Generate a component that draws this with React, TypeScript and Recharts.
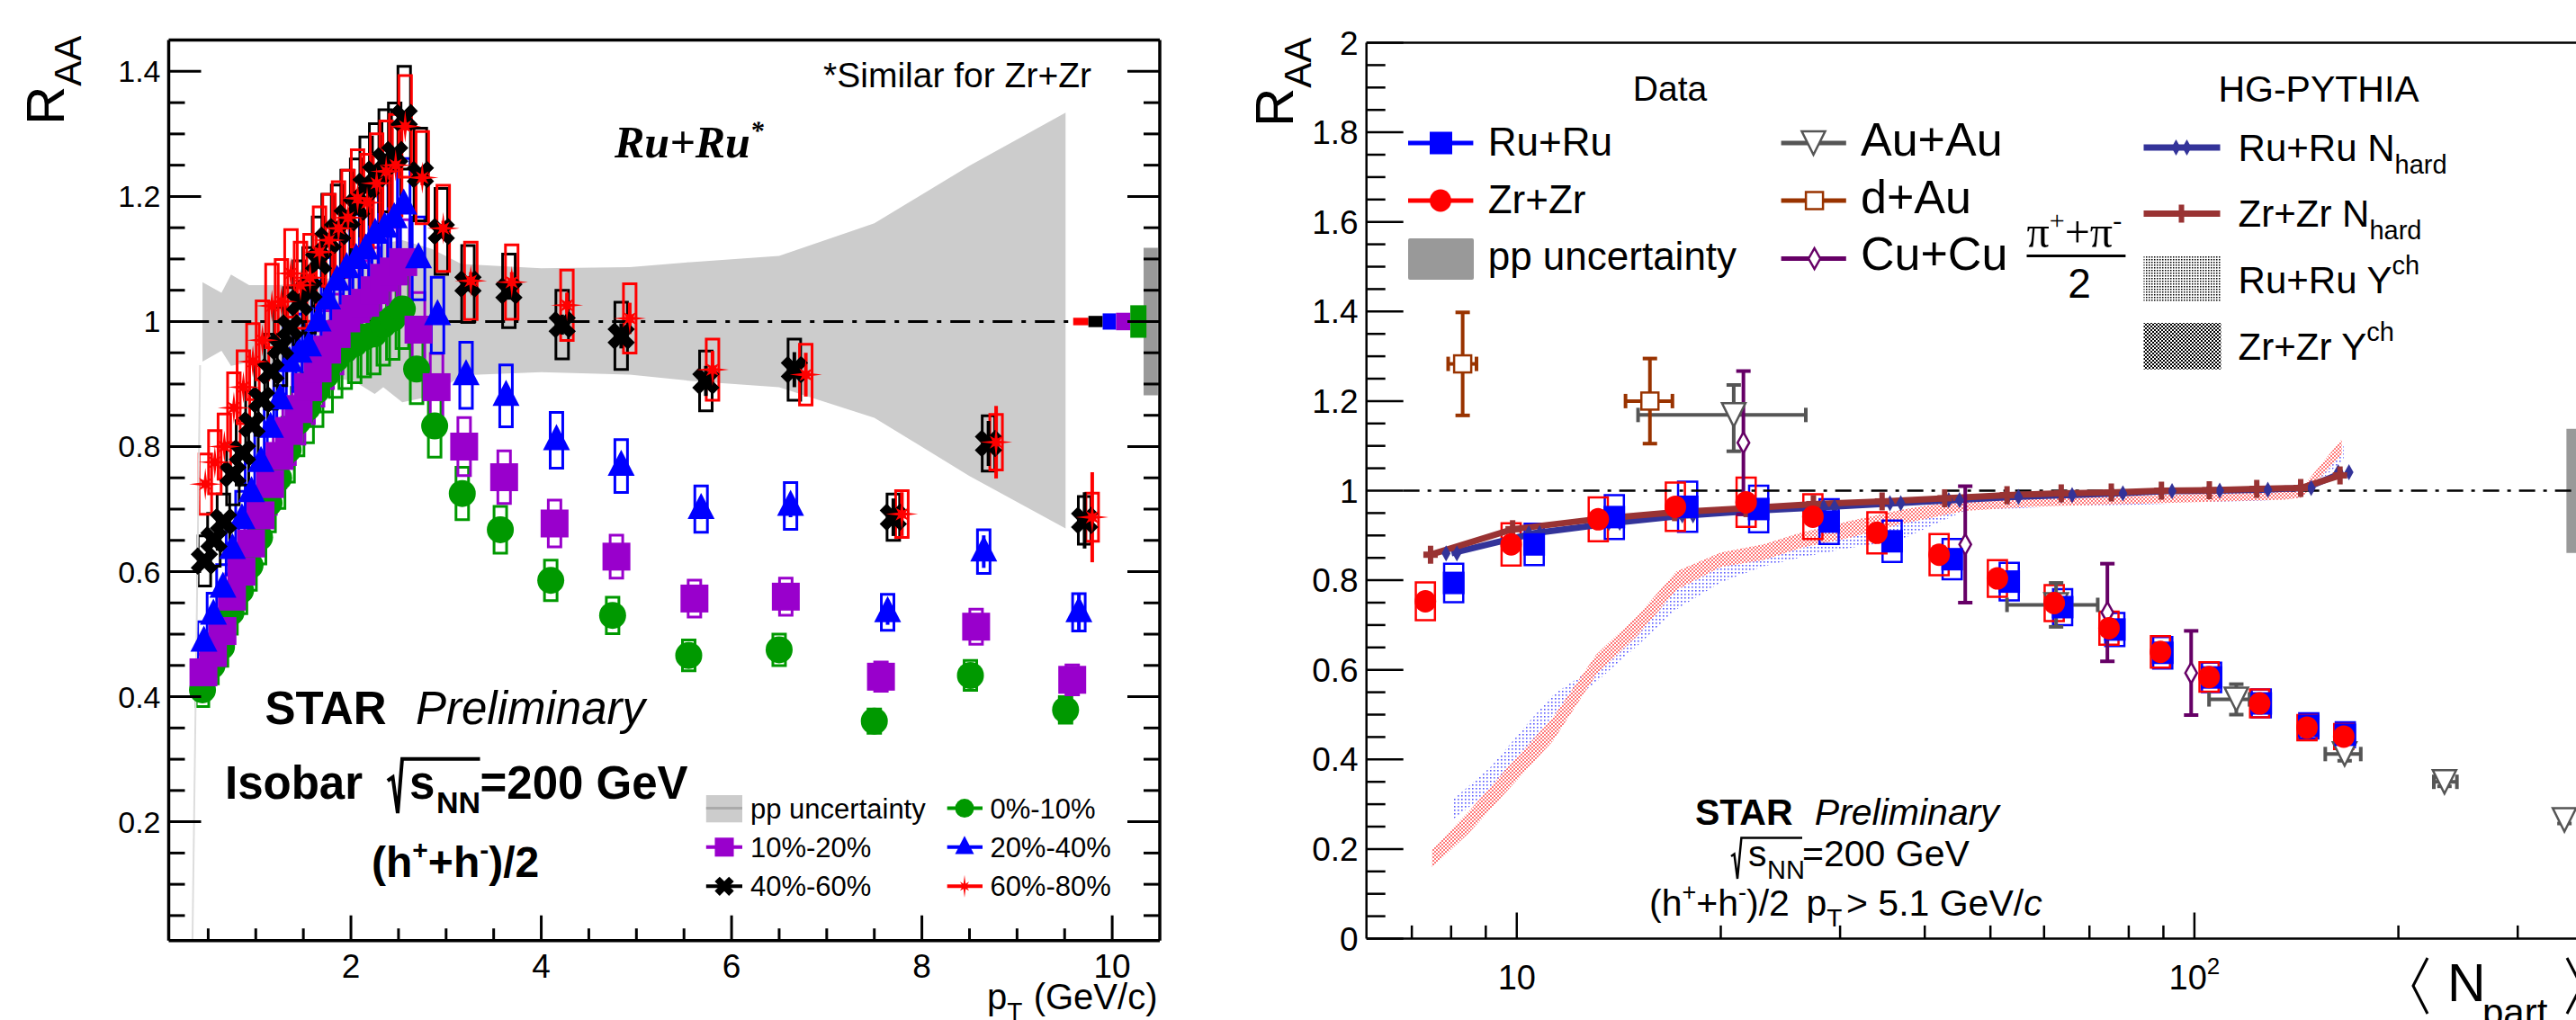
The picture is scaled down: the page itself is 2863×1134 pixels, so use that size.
import React from 'react';
import {
  ComposedChart, Scatter, Area, Line, XAxis, YAxis,
  ReferenceArea, ReferenceLine, ErrorBar,
} from 'recharts';

const SANS = '"Liberation Sans", Arial, Helvetica, sans-serif';
const SERIF = '"Liberation Serif", "Times New Roman", serif';

// ================= LEFT PANEL: R_AA vs pT (Ru+Ru) =================
const ptGreen = [0.44, 0.54, 0.64, 0.74, 0.84, 0.94, 1.04, 1.14, 1.24, 1.34, 1.44, 1.54, 1.64, 1.74, 1.84, 1.94, 2.04, 2.14, 2.24, 2.34, 2.44, 2.54, 2.69, 2.88, 3.17, 3.57, 4.1, 4.75, 5.55, 6.5, 7.5, 8.51, 9.51];
const raaGreen = [0.411, 0.45, 0.48, 0.535, 0.57, 0.61, 0.655, 0.71, 0.75, 0.795, 0.84, 0.862, 0.89, 0.915, 0.94, 0.955, 0.965, 0.975, 0.98, 0.995, 1.005, 1.02, 0.924, 0.833, 0.725, 0.667, 0.586, 0.53, 0.466, 0.475, 0.361, 0.434, 0.379];
const statGreen = [0.006, 0.006, 0.007, 0.008, 0.009, 0.01, 0.012, 0.014, 0.014, 0.018, 0.02];

const ptPurple = [0.45, 0.55, 0.65, 0.75, 0.85, 0.95, 1.05, 1.15, 1.25, 1.35, 1.45, 1.55, 1.65, 1.75, 1.85, 1.95, 2.05, 2.15, 2.25, 2.35, 2.45, 2.55, 2.71, 2.9, 3.19, 3.61, 4.14, 4.79, 5.61, 6.57, 7.57, 8.57, 9.58];
const raaPurple = [0.439, 0.47, 0.505, 0.56, 0.6, 0.645, 0.69, 0.74, 0.785, 0.825, 0.86, 0.895, 0.925, 0.955, 0.98, 1.005, 1.02, 1.03, 1.05, 1.07, 1.08, 1.095, 0.987, 0.895, 0.8, 0.751, 0.677, 0.624, 0.557, 0.56, 0.432, 0.512, 0.427];
const statPurple = [0.007, 0.007, 0.008, 0.009, 0.01, 0.011, 0.013, 0.015, 0.016, 0.02, 0.022];

const ptBlue = [0.455, 0.555, 0.655, 0.755, 0.855, 0.955, 1.055, 1.155, 1.255, 1.355, 1.455, 1.555, 1.655, 1.755, 1.855, 1.955, 2.055, 2.155, 2.255, 2.355, 2.455, 2.555, 2.71, 2.91, 3.21, 3.63, 4.16, 4.84, 5.68, 6.62, 7.64, 8.65, 9.65];
const raaBlue = [0.488, 0.531, 0.574, 0.636, 0.684, 0.727, 0.775, 0.83, 0.875, 0.935, 0.95, 0.96, 1.0, 1.035, 1.065, 1.085, 1.1, 1.115, 1.14, 1.15, 1.165, 1.187, 1.101, 1.01, 0.914, 0.881, 0.81, 0.769, 0.7, 0.705, 0.535, 0.632, 0.535];
const statBlue = [0.008, 0.008, 0.009, 0.01, 0.012, 0.014, 0.016, 0.018, 0.02, 0.026, 0.03];

const ptBlack = [0.46, 0.56, 0.66, 0.76, 0.86, 0.96, 1.06, 1.16, 1.26, 1.36, 1.46, 1.56, 1.66, 1.76, 1.86, 1.96, 2.06, 2.16, 2.26, 2.36, 2.46, 2.56, 2.73, 2.95, 3.23, 3.66, 4.22, 4.84, 5.73, 6.66, 7.7, 8.7, 9.71];
const raaBlack = [0.617, 0.651, 0.68, 0.756, 0.79, 0.835, 0.875, 0.92, 0.96, 0.99, 1.03, 1.05, 1.096, 1.13, 1.144, 1.166, 1.183, 1.216, 1.236, 1.257, 1.267, 1.326, 1.235, 1.144, 1.06, 1.049, 0.995, 0.977, 0.905, 0.923, 0.687, 0.805, 0.682];
const statBlack = [0.01, 0.01, 0.012, 0.014, 0.016, 0.02, 0.024, 0.028, 0.03, 0.036, 0.045];

const ptRed = [0.47, 0.57, 0.67, 0.77, 0.87, 0.97, 1.07, 1.17, 1.27, 1.37, 1.47, 1.57, 1.67, 1.77, 1.87, 1.97, 2.07, 2.17, 2.27, 2.37, 2.47, 2.57, 2.75, 2.97, 3.26, 3.69, 4.27, 4.93, 5.8, 6.78, 7.79, 8.78, 9.79];
const raaRed = [0.74, 0.775, 0.8, 0.862, 0.895, 0.936, 0.97, 1.025, 1.032, 1.077, 1.058, 1.07, 1.111, 1.13, 1.149, 1.166, 1.197, 1.19, 1.221, 1.24, 1.25, 1.312, 1.23, 1.149, 1.065, 1.063, 1.026, 1.005, 0.923, 0.915, 0.692, 0.807, 0.687];
const statRed = [0.012, 0.012, 0.014, 0.016, 0.02, 0.025, 0.03, 0.035, 0.035, 0.058, 0.072];

// relative systematic uncertainty per pT bin (open boxes)
const sysRel = [0.065, 0.065, 0.065, 0.065, 0.065, 0.065, 0.065, 0.065, 0.065, 0.065, 0.065, 0.065, 0.065, 0.065, 0.065, 0.065, 0.065, 0.065, 0.065, 0.065, 0.065, 0.062, 0.06, 0.06, 0.058, 0.056, 0.055, 0.055, 0.053, 0.053, 0.054, 0.055, 0.056];

// pp uncertainty band
const bandPt = [0.44, 0.64, 0.74, 0.93, 1.2, 1.5, 1.8, 2.03, 2.25, 2.34, 2.54, 2.85, 3.16, 4.0, 4.93, 5.57, 6.5, 7.5, 8.5, 9.51];
const bandLo = [0.936, 0.953, 0.929, 0.935, 0.925, 0.915, 0.91, 0.905, 0.884, 0.895, 0.871, 0.881, 0.914, 0.919, 0.915, 0.905, 0.895, 0.846, 0.753, 0.669];
const bandHi = [1.063, 1.046, 1.075, 1.058, 1.058, 1.06, 1.07, 1.09, 1.11, 1.125, 1.13, 1.116, 1.092, 1.085, 1.087, 1.095, 1.105, 1.157, 1.249, 1.334];

// normalization uncertainty boxes at the right edge (gray = pp)
const normColors = ['#999999', '#ff0000', '#000000', '#0000ff', '#9900cc', '#009900'];
const normX1 = [10.33, 9.59, 9.75, 9.9, 10.04, 10.19];
const normX2 = [10.48, 9.75, 9.9, 10.04, 10.19, 10.36];
const normHalf = [0.118, 0.006, 0.009, 0.013, 0.014, 0.026];

const leftXTicks = [0.5, 1, 1.5, 2, 2.5, 3, 3.5, 4, 4.5, 5, 5.5, 6, 6.5, 7, 7.5, 8, 8.5, 9, 9.5, 10];
const leftYTicks = [0.05, 0.1, 0.15, 0.2, 0.25, 0.3, 0.35, 0.4, 0.45, 0.5, 0.55, 0.6, 0.65, 0.7, 0.75, 0.8, 0.85, 0.9, 0.95, 1, 1.05, 1.1, 1.15, 1.2, 1.25, 1.3, 1.35, 1.4];

// ================= RIGHT PANEL: R_AA vs <Npart> =================
const nZr = [7.33, 9.81, 13.19, 17.14, 21.8, 27.35, 34.0, 42.0, 51.2, 62.1, 74.8, 89.1, 105.1, 124.8, 146.6, 166.1];
const raaZr = [0.753, 0.88, 0.936, 0.964, 0.974, 0.942, 0.906, 0.857, 0.804, 0.749, 0.693, 0.64, 0.584, 0.525, 0.471, 0.451];
const sysZr = [0.042, 0.047, 0.049, 0.054, 0.055, 0.05, 0.046, 0.046, 0.041, 0.04, 0.037, 0.035, 0.033, 0.031, 0.028, 0.028];
const nRu = [8.07, 10.61, 13.93, 17.87, 22.75, 28.9, 35.8, 43.9, 53.3, 63.9, 76.3, 89.8, 106.0, 125.5, 147.5, 167.0];
const raaRu = [0.794, 0.88, 0.941, 0.964, 0.959, 0.931, 0.887, 0.847, 0.797, 0.74, 0.69, 0.638, 0.583, 0.525, 0.475, 0.455];
const sysRu = [0.043, 0.046, 0.049, 0.056, 0.052, 0.05, 0.046, 0.045, 0.042, 0.04, 0.037, 0.035, 0.033, 0.031, 0.028, 0.028];

const nAu = [20.9, 62.5, 115.3, 166.6, 233.9, 351.6];
const raaAu = [1.169, 0.745, 0.534, 0.412, 0.35, 0.265];
const auXLo = [5.8, 9.6, 10.2, 10.6, 8.3, 0];
const auXHi = [5.8, 9.5, 5.3, 9.4, 10.1, 0];
const auYLo = [0.081, 0.049, 0.034, 0.015, 0.01, 0.008];
const auYHi = [0.067, 0.049, 0.034, 0.015, 0.01, 0.008];

const nDAu = [8.32, 15.72];
const raaDAu = [1.283, 1.2];
const dauXErr = [0.4, 1.25];
const dauYErr = [0.115, 0.095];

const nCu = [21.6, 45.9, 74.4, 98.9];
const raaCu = [1.107, 0.88, 0.728, 0.593];
const cuYErr = [0.16, 0.13, 0.109, 0.094];

const ychZrN = [7.5, 8.5, 9.8, 11.3, 13.1, 15.1, 17.2, 20, 23.1, 26.4, 31, 36.8, 45.8, 56.9, 70.8, 87.8, 109, 136, 144, 165];
const ychZrLo = [0.159, 0.236, 0.339, 0.441, 0.589, 0.678, 0.778, 0.83, 0.845, 0.873, 0.895, 0.925, 0.955, 0.964, 0.968, 0.972, 0.976, 0.98, 0.985, 1.08];
const ychZrHi = [0.199, 0.284, 0.39, 0.493, 0.634, 0.722, 0.82, 0.862, 0.88, 0.907, 0.932, 0.957, 0.981, 0.982, 0.988, 0.99, 0.995, 1.0, 1.006, 1.115];
const ychRuN = [8.05, 9.15, 10.55, 11.33, 13.06, 15.1, 17.2, 20, 23.1, 26.4, 31, 36.8, 45.8, 56.9, 70.8, 87.8, 109, 136, 144, 166];
const ychRuLo = [0.266, 0.331, 0.441, 0.5, 0.571, 0.655, 0.735, 0.795, 0.831, 0.852, 0.872, 0.89, 0.955, 0.962, 0.966, 0.97, 0.975, 0.98, 0.985, 1.07];
const ychRuHi = [0.31, 0.383, 0.493, 0.545, 0.608, 0.71, 0.777, 0.831, 0.866, 0.872, 0.905, 0.937, 0.978, 0.978, 0.985, 0.99, 0.995, 1.0, 1.005, 1.1];

const nhZrN = [7.46, 9.86, 13.2, 17.1, 21.8, 27.4, 34.6, 42.8, 52.9, 63.6, 75.4, 89.4, 105.2, 123.6, 143.5, 164];
const nhZrV = [0.857, 0.914, 0.937, 0.952, 0.961, 0.97, 0.976, 0.983, 0.99, 0.994, 0.996, 1.0, 1.001, 1.004, 1.006, 1.034];
const nhRuN = [8.01, 10.61, 13.93, 17.87, 22.75, 28.9, 36.2, 44.2, 54.0, 64.8, 77.0, 91.0, 107.0, 126.0, 146.0, 166.0];
const nhRuV = [0.86, 0.905, 0.928, 0.945, 0.956, 0.964, 0.972, 0.979, 0.986, 0.99, 0.994, 0.999, 1.0, 1.002, 1.006, 1.041];

const rightXTicks = [7, 8, 9, 10, 20, 30, 40, 50, 60, 70, 80, 90, 100, 200, 300, 400];
const rightYTicks = [0, 0.05, 0.1, 0.15, 0.2, 0.25, 0.3, 0.35, 0.4, 0.45, 0.5, 0.55, 0.6, 0.65, 0.7, 0.75, 0.8, 0.85, 0.9, 0.95, 1, 1.05, 1.1, 1.15, 1.2, 1.25, 1.3, 1.35, 1.4, 1.45, 1.5, 1.55, 1.6, 1.65, 1.7, 1.75, 1.8, 1.85, 1.9, 1.95, 2];

// ================= helpers =================
const isMajor = (v: number, step: number) => Math.abs(v / step - Math.round(v / step)) < 1e-6;
const fmt = (v: number) => String(Math.round(v * 10) / 10);
const ok = (p: any) => p && p.cx != null && p.cy != null && !isNaN(p.cx) && !isNaN(p.cy);

function crossPts(cx: number, cy: number, L: number, a: number) {
  const base = [[-a, -L], [a, -L], [a, -a], [L, -a], [L, a], [a, a], [a, L], [-a, L], [-a, a], [-L, a], [-L, -a], [-a, -a]];
  const c = Math.SQRT1_2;
  return base.map(([x, y]) => `${cx + (x - y) * c},${cy + (x + y) * c}`).join(' ');
}
function starPts(cx: number, cy: number, rMain: number, rDiag: number, rIn: number) {
  const pts: string[] = [];
  for (let k = 0; k < 16; k++) {
    const ang = -Math.PI / 2 + (k * Math.PI) / 8;
    const r = k % 2 === 1 ? rIn : k % 4 === 0 ? rMain : rDiag;
    pts.push(`${cx + r * Math.cos(ang)},${cy + r * Math.sin(ang)}`);
  }
  return pts.join(' ');
}

const mGreen = (cx: number, cy: number, s: number) => <circle cx={cx} cy={cy} r={15 * s} fill="#009900" />;
const mPurple = (cx: number, cy: number, s: number) => <rect x={cx - 15.5 * s} y={cy - 15.5 * s} width={31 * s} height={31 * s} fill="#9900cc" />;
const mBlue = (cx: number, cy: number, s: number) => (
  <polygon points={`${cx},${cy - 18 * s} ${cx - 15 * s},${cy + 11 * s} ${cx + 15 * s},${cy + 11 * s}`} fill="#0000ff" />
);
const mBlack = (cx: number, cy: number, s: number) => <polygon points={crossPts(cx, cy, 16 * s, 5.5 * s)} fill="#000000" />;
const mRed = (cx: number, cy: number, s: number) => <polygon points={starPts(cx, cy, 18 * s, 10 * s, 4.5 * s)} fill="#ff0000" />;

const leftSeries = [
  { key: 'g', xs: ptGreen, ys: raaGreen, st: statGreen, color: '#009900', mark: mGreen },
  { key: 'p', xs: ptPurple, ys: raaPurple, st: statPurple, color: '#9900cc', mark: mPurple },
  { key: 'b', xs: ptBlue, ys: raaBlue, st: statBlue, color: '#0000ff', mark: mBlue },
  { key: 'k', xs: ptBlack, ys: raaBlack, st: statBlack, color: '#000000', mark: mBlack },
  { key: 'r', xs: ptRed, ys: raaRed, st: statRed, color: '#ff0000', mark: mRed },
].map((s) => ({
  ...s,
  data: s.xs.map((x, i) => ({ x, y: s.ys[i], err: i >= 22 ? s.st[i - 22] : 0, sys: s.ys[i] * sysRel[i] })),
}));

const bandData = bandPt.map((x, i) => ({ x, range: [bandLo[i], bandHi[i]] }));
const LEFT_BOX_HALF = 0.066; // box half width in pT units (style)

// ---- tick renderers ----
const LeftXTick = (p: any) => {
  const v = p.payload.value;
  const major = isMajor(v, 2);
  return (
    <g>
      <line x1={p.x} x2={p.x} y1={p.y} y2={p.y - (major ? 28 : 13.5)} stroke="#000" strokeWidth={3} />
      {major ? <text x={p.x} y={p.y + 41.3} textAnchor="middle" fontFamily={SANS} fontSize={37} fill="#000">{fmt(v)}</text> : null}
    </g>
  );
};
const LeftYTick = (p: any) => {
  const v = p.payload.value;
  const major = isMajor(v, 0.2);
  return (
    <g>
      <line x1={p.x} x2={p.x + (major ? 36 : 18)} y1={p.y} y2={p.y} stroke="#000" strokeWidth={3} />
      {major ? <text x={p.x - 9} y={p.y + 12} textAnchor="end" fontFamily={SANS} fontSize={34} fill="#000">{fmt(v)}</text> : null}
    </g>
  );
};
const LeftYTickR = (p: any) => {
  const v = p.payload.value;
  const major = isMajor(v, 0.2);
  return <line x1={p.x} x2={p.x - (major ? 36 : 18)} y1={p.y} y2={p.y} stroke="#000" strokeWidth={3} />;
};
const RightXTick = (p: any) => {
  const v = p.payload.value;
  const major = v === 10 || v === 100;
  return (
    <g>
      <line x1={p.x} x2={p.x} y1={p.y} y2={p.y - (major ? 29 : 14.6)} stroke="#000" strokeWidth={2.5} />
      {v === 10 ? <text x={p.x} y={p.y + 56.5} textAnchor="middle" fontFamily={SANS} fontSize={38} fill="#000">10</text> : null}
      {v === 100 ? (
        <text x={p.x} y={p.y + 56.5} textAnchor="middle" fontFamily={SANS} fontSize={38} fill="#000">
          10<tspan dy={-17} fontSize={26}>2</tspan>
        </text>
      ) : null}
    </g>
  );
};
const RightYTick = (p: any) => {
  const v = p.payload.value;
  const major = isMajor(v, 0.2);
  return (
    <g>
      <line x1={p.x} x2={p.x + (major ? 41 : 21)} y1={p.y} y2={p.y} stroke="#000" strokeWidth={2.5} />
      {major ? <text x={p.x - 9} y={p.y + 13} textAnchor="end" fontFamily={SANS} fontSize={37} fill="#000">{fmt(v)}</text> : null}
    </g>
  );
};

// ---- right panel data objects ----
const zrData = nZr.map((x, i) => ({ x, y: raaZr[i], sys: sysZr[i] }));
const ruData = nRu.map((x, i) => ({ x, y: raaRu[i], sys: sysRu[i] }));
const auData = nAu.map((x, i) => ({ x, y: raaAu[i], xe: [auXLo[i], auXHi[i]], ye: [auYLo[i], auYHi[i]] }));
const dauData = nDAu.map((x, i) => ({ x, y: raaDAu[i], xe: dauXErr[i], ye: dauYErr[i] }));
const cuData = nCu.map((x, i) => ({ x, y: raaCu[i], ye: cuYErr[i] }));
const ychZr = ychZrN.map((x, i) => ({ x, range: [ychZrLo[i], ychZrHi[i]] }));
const ychRu = ychRuN.map((x, i) => ({ x, range: [ychRuLo[i], ychRuHi[i]] }));
const nhZr = nhZrN.map((x, i) => ({ x, y: nhZrV[i] }));
const nhRu = nhRuN.map((x, i) => ({ x, y: nhRuV[i] }));
const RIGHT_BOX_FACTOR = 1.033; // box half width as log factor (style)

const plusMark = (cx: number, cy: number, s: number) => (
  <g>
    <rect x={cx - 3 * s} y={cy - 10 * s} width={6 * s} height={20 * s} fill="#993333" />
    <rect x={cx - 8 * s} y={cy - 3.5 * s} width={16 * s} height={7 * s} fill="#993333" />
  </g>
);
const ddMark = (cx: number, cy: number, s: number) => (
  <g fill="#333399">
    <polygon points={`${cx - 6 * s},${cy - 9 * s} ${cx - 1 * s},${cy} ${cx - 6 * s},${cy + 9 * s} ${cx - 11 * s},${cy}`} />
    <polygon points={`${cx + 6 * s},${cy - 9 * s} ${cx + 11 * s},${cy} ${cx + 6 * s},${cy + 9 * s} ${cx + 1 * s},${cy}`} />
  </g>
);
const auMark = (cx: number, cy: number, s: number) => (
  <polygon points={`${cx - 13 * s},${cy - 13 * s} ${cx + 13 * s},${cy - 13 * s} ${cx},${cy + 13 * s}`} fill="#fff" stroke="#555555" strokeWidth={2.5} />
);
const dauMark = (cx: number, cy: number, s: number) => (
  <rect x={cx - 9.5 * s} y={cy - 9.5 * s} width={19 * s} height={19 * s} fill="#fff" stroke="#993300" strokeWidth={2.5} />
);
const cuMark = (cx: number, cy: number, s: number) => (
  <polygon points={`${cx},${cy - 11.5 * s} ${cx + 6.5 * s},${cy} ${cx},${cy + 11.5 * s} ${cx - 6.5 * s},${cy}`} fill="#fff" stroke="#660066" strokeWidth={2.5} />
);

// ================= charts =================
const LeftChart = () => (
  <ComposedChart width={1300} height={1134} margin={{ top: 44.6, left: 87.5, right: 10, bottom: 28.3 }}>
    <XAxis type="number" dataKey="x" domain={[0.085, 10.5]} allowDataOverflow ticks={leftXTicks} interval={0}
      tick={(p: any) => <LeftXTick {...p} />} tickLine={false} tickSize={0} tickMargin={0}
      axisLine={{ stroke: '#000', strokeWidth: 3.5 }} height={60} />
    <YAxis type="number" domain={[0.01, 1.45]} allowDataOverflow ticks={leftYTicks} interval={0}
      tick={(p: any) => <LeftYTick {...p} />} tickLine={false} tickSize={0} tickMargin={0}
      axisLine={{ stroke: '#000', strokeWidth: 3.5 }} width={100} />
    <YAxis yAxisId="r" orientation="right" type="number" domain={[0.01, 1.45]} allowDataOverflow ticks={leftYTicks} interval={0}
      tick={(p: any) => <LeftYTickR {...p} />} tickLine={false} tickSize={0} tickMargin={0}
      axisLine={{ stroke: '#000', strokeWidth: 3.5 }} width={1} />
    <ReferenceLine y={1.45} stroke="#000" strokeWidth={3.5} />
    <Area data={bandData} dataKey="range" type="linear" fill="#cccccc" fillOpacity={1} stroke="none" isAnimationActive={false} />
    <Line data={[{ x: 0.415, y: 0.93 }, { x: 0.335, y: 0.012 }]} dataKey="y" stroke="#dddddd" strokeWidth={2} dot={false} activeDot={false} isAnimationActive={false} />
    <ReferenceLine segment={[{ x: 0.3, y: 1 }, { x: 9.58, y: 1 }]} stroke="#000" strokeWidth={3} strokeDasharray="22 10 5 10" />
    {normColors.map((c, i) => (
      <ReferenceArea key={`n${i}`} x1={normX1[i]} x2={normX2[i]} y1={1 - normHalf[i]} y2={1 + normHalf[i]} fill={c} fillOpacity={1} stroke="none" ifOverflow="visible" />
    ))}
    {leftSeries.map((s) =>
      s.data.map((d, i) => (
        <ReferenceArea key={`b${s.key}${i}`} x1={d.x - LEFT_BOX_HALF} x2={d.x + LEFT_BOX_HALF} y1={d.y - d.sys} y2={d.y + d.sys}
          fill="none" fillOpacity={0} stroke={s.color} strokeWidth={3} ifOverflow="visible" />
      )),
    )}
    {leftSeries.map((s) => (
      <Scatter key={`s${s.key}`} data={s.data} dataKey="y" isAnimationActive={false}
        shape={(p: any) => (ok(p) ? s.mark(p.cx, p.cy, 1) : <g />)}>
        <ErrorBar dataKey="err" direction="y" width={0} stroke={s.color} strokeWidth={4} />
      </Scatter>
    ))}
  </ComposedChart>
);

const RightChart = () => (
  <ComposedChart width={1680} height={1134} margin={{ top: 47.5, left: 118.7, right: 14.7, bottom: 30.5 }}>
    <XAxis type="number" dataKey="x" scale="log" domain={[6, 500]} allowDataOverflow ticks={rightXTicks} interval={0}
      tick={(p: any) => <RightXTick {...p} />} tickLine={false} tickSize={0} tickMargin={0}
      axisLine={{ stroke: '#000', strokeWidth: 2.5 }} height={60} />
    <YAxis type="number" domain={[0, 2]} allowDataOverflow ticks={rightYTicks} interval={0}
      tick={(p: any) => <RightYTick {...p} />} tickLine={false} tickSize={0} tickMargin={0}
      axisLine={{ stroke: '#000', strokeWidth: 2.5 }} width={100} />
    <ReferenceLine y={2} stroke="#000" strokeWidth={2.5} />
    <Area data={ychRu} dataKey="range" type="linear" fill="url(#ruYch)" fillOpacity={1} stroke="none" isAnimationActive={false} />
    <Area data={ychZr} dataKey="range" type="linear" fill="url(#zrYch)" fillOpacity={1} stroke="none" isAnimationActive={false} />
    <ReferenceLine segment={[{ x: 6.8, y: 1 }, { x: 500, y: 1 }]} stroke="#000" strokeWidth={2.5} strokeDasharray="18 9 4 9" />
    <ReferenceArea x1={354} x2={500} y1={0.861} y2={1.138} fill="#999999" fillOpacity={1} stroke="none" ifOverflow="visible" />
    {ruData.map((d, i) => (
      <ReferenceArea key={`rb${i}`} x1={d.x / RIGHT_BOX_FACTOR} x2={d.x * RIGHT_BOX_FACTOR} y1={d.y - d.sys} y2={d.y + d.sys}
        fill="none" fillOpacity={0} stroke="#0000ff" strokeWidth={2.5} ifOverflow="visible" />
    ))}
    {zrData.map((d, i) => (
      <ReferenceArea key={`zb${i}`} x1={d.x / RIGHT_BOX_FACTOR} x2={d.x * RIGHT_BOX_FACTOR} y1={d.y - d.sys} y2={d.y + d.sys}
        fill="none" fillOpacity={0} stroke="#ff0000" strokeWidth={2.5} ifOverflow="visible" />
    ))}
    <Line data={nhRu} dataKey="y" type="linear" stroke="#333399" strokeWidth={7} isAnimationActive={false} activeDot={false}
      dot={(p: any) => <g key={`dd${p.index}`}>{ok(p) ? ddMark(p.cx, p.cy, 1) : null}</g>} />
    <Line data={nhZr} dataKey="y" type="linear" stroke="#993333" strokeWidth={7} isAnimationActive={false} activeDot={false}
      dot={(p: any) => <g key={`pl${p.index}`}>{ok(p) ? plusMark(p.cx, p.cy, 1) : null}</g>} />
    <Scatter data={auData} dataKey="y" isAnimationActive={false} shape={(p: any) => (ok(p) ? auMark(p.cx, p.cy, 1) : <g />)}>
      <ErrorBar dataKey="xe" direction="x" width={8} stroke="#555555" strokeWidth={4} />
      <ErrorBar dataKey="ye" direction="y" width={8} stroke="#555555" strokeWidth={4} />
    </Scatter>
    <Scatter data={dauData} dataKey="y" isAnimationActive={false} shape={(p: any) => (ok(p) ? dauMark(p.cx, p.cy, 1) : <g />)}>
      <ErrorBar dataKey="xe" direction="x" width={8} stroke="#993300" strokeWidth={4} />
      <ErrorBar dataKey="ye" direction="y" width={8} stroke="#993300" strokeWidth={4} />
    </Scatter>
    <Scatter data={cuData} dataKey="y" isAnimationActive={false} shape={(p: any) => (ok(p) ? cuMark(p.cx, p.cy, 1) : <g />)}>
      <ErrorBar dataKey="ye" direction="y" width={8} stroke="#660066" strokeWidth={4} />
    </Scatter>
    <Scatter data={ruData} dataKey="y" isAnimationActive={false}
      shape={(p: any) => (ok(p) ? <rect x={p.cx - 12} y={p.cy - 12.5} width={24} height={25} fill="#0000ff" /> : <g />)} />
    <Scatter data={zrData} dataKey="y" isAnimationActive={false}
      shape={(p: any) => (ok(p) ? <ellipse cx={p.cx} cy={p.cy} rx={12} ry={12.5} fill="#ff0000" /> : <g />)} />
  </ComposedChart>
);

// ================= patterns, texts, legends =================
const Defs = () => (
  <svg width={0} height={0} style={{ position: 'absolute', left: 0, top: 0 }}>
    <defs>
      <pattern id="zrYch" width={4} height={4} patternUnits="userSpaceOnUse">
        <rect x={0} y={0} width={2} height={2} fill="#ff7a7a" />
        <rect x={2} y={2} width={2} height={2} fill="#ff7a7a" />
      </pattern>
      <pattern id="ruYch" width={4} height={4} patternUnits="userSpaceOnUse">
        <rect x={0} y={0} width={1.6} height={1.6} fill="#5a5aff" />
      </pattern>
      <pattern id="legZr" width={4} height={4} patternUnits="userSpaceOnUse">
        <rect x={0} y={0} width={2} height={2} fill="#000" />
        <rect x={2} y={2} width={2} height={2} fill="#000" />
      </pattern>
      <pattern id="legRu" width={3} height={3} patternUnits="userSpaceOnUse">
        <rect x={0} y={0} width={1.5} height={1.5} fill="#000" />
      </pattern>
    </defs>
  </svg>
);

const Overlay = () => (
  <svg width={2863} height={1134} style={{ position: 'absolute', left: 0, top: 0, pointerEvents: 'none' }} fontFamily={SANS}>
    {/* ---------- left panel ---------- */}
    <text x={71} y={139} transform="rotate(-90 71 139)" fontSize={60}>R<tspan dy={19} fontSize={42}>AA</tspan></text>
    <text x={1097} y={1122} fontSize={40}>p<tspan dy={12} fontSize={28}>T</tspan><tspan dy={-12} x={1148.7}>(GeV/c)</tspan></text>
    <text x={1213} y={97} textAnchor="end" fontSize={39}>*Similar for Zr+Zr</text>
    <text x={683} y={175} fontFamily={SERIF} fontWeight="bold" fontStyle="italic" fontSize={50}>Ru+Ru<tspan dy={-20} fontSize={30}>*</tspan></text>
    <text x={294.6} y={805} fontSize={51} fontWeight="bold">STAR<tspan x={462} fontWeight="normal" fontStyle="italic">Preliminary</tspan></text>
    <text x={250} y={887.6} fontSize={51} fontWeight="bold">Isobar</text>
    <path d="M430.8 868 L436.5 864 L442 904 L447 843.7 L533.5 843.7" stroke="#000" strokeWidth={4} fill="none" />
    <text x={455} y={887.6} fontSize={51} fontWeight="bold">s</text>
    <text x={485} y={904} fontSize={34} fontWeight="bold">NN</text>
    <text x={533.5} y={887.6} fontSize={51} fontWeight="bold">=200 GeV</text>
    <text x={413} y={975} fontSize={48} fontWeight="bold">(h<tspan dy={-20} fontSize={30}>+</tspan><tspan dy={20}>+h</tspan><tspan dy={-20} fontSize={30}>-</tspan><tspan dy={20}>)/2</tspan></text>

    {/* left legend */}
    <rect x={784.8} y={884} width={40.2} height={30.3} fill="#cccccc" />
    <line x1={784.8} x2={825} y1={898.6} y2={898.6} stroke="#aaaaaa" strokeWidth={3} />
    <text x={834} y={909.6} fontSize={31}>pp uncertainty</text>
    <line x1={1052.7} x2={1092} y1={898.6} y2={898.6} stroke="#009900" strokeWidth={4} />
    {mGreen(1072, 898.6, 0.7)}
    <text x={1100.4} y={909.6} fontSize={31}>0%-10%</text>
    <line x1={784.8} x2={825} y1={941.8} y2={941.8} stroke="#9900cc" strokeWidth={4} />
    {mPurple(805, 941.8, 0.68)}
    <text x={834} y={952.8} fontSize={31}>10%-20%</text>
    <line x1={1052.7} x2={1092} y1={941.8} y2={941.8} stroke="#0000ff" strokeWidth={4} />
    {mBlue(1072, 941.8, 0.7)}
    <text x={1100.4} y={952.8} fontSize={31}>20%-40%</text>
    <line x1={784.8} x2={825} y1={985.3} y2={985.3} stroke="#000" strokeWidth={4} />
    {mBlack(805, 985.3, 0.7)}
    <text x={834} y={996.3} fontSize={31}>40%-60%</text>
    <line x1={1052.7} x2={1092} y1={985.3} y2={985.3} stroke="#ff0000" strokeWidth={4} />
    {mRed(1072, 985.3, 0.7)}
    <text x={1100.4} y={996.3} fontSize={31}>60%-80%</text>

    {/* ---------- right panel ---------- */}
    <text x={1437} y={141} transform="rotate(-90 1437 141)" fontSize={60}>R<tspan dy={20} fontSize={42}>AA</tspan></text>
    <path d="M2698 1065 L2682 1096 L2698 1127" stroke="#000" strokeWidth={3} fill="none" />
    <text x={2720} y={1112.7} fontSize={59}>N</text>
    <text x={2759} y={1140} fontSize={42}>part</text>
    <path d="M2853 1065 L2869 1096 L2853 1127" stroke="#000" strokeWidth={3} fill="none" />

    <text x={1856} y={112} textAnchor="middle" fontSize={39}>Data</text>
    <line x1={1565} x2={1637.4} y1={159} y2={159} stroke="#0000ff" strokeWidth={5} />
    <rect x={1589} y={146.5} width={25} height={25} fill="#0000ff" />
    <text x={1653.7} y={173} fontSize={44}>Ru+Ru</text>
    <line x1={1565} x2={1637.4} y1={223} y2={223} stroke="#ff0000" strokeWidth={5} />
    <ellipse cx={1601} cy={223} rx={12} ry={12.5} fill="#ff0000" />
    <text x={1653.7} y={236.5} fontSize={44}>Zr+Zr</text>
    <rect x={1565} y={265} width={73} height={46} fill="#999999" rx={2} />
    <text x={1653.7} y={300} fontSize={44}>pp uncertainty</text>

    <line x1={1979.6} x2={2051.8} y1={159} y2={159} stroke="#555555" strokeWidth={5} />
    {auMark(2015.5, 159, 1)}
    <text x={2068} y={173} fontSize={52}>Au+Au</text>
    <line x1={1979.6} x2={2051.8} y1={223} y2={223} stroke="#993300" strokeWidth={5} />
    {dauMark(2016.6, 223, 1)}
    <text x={2068} y={236.5} fontSize={52}>d+Au</text>
    <line x1={1979.6} x2={2051.8} y1={287.5} y2={287.5} stroke="#660066" strokeWidth={5} />
    {cuMark(2016.6, 287.5, 1)}
    <text x={2068} y={300} fontSize={52}>Cu+Cu</text>
    <text x={2252.5} y={275} fontFamily={SERIF} fontSize={50}>π<tspan dy={-20} fontSize={30}>+</tspan><tspan dy={20}>+π</tspan><tspan dy={-20} fontSize={30}>-</tspan></text>
    <line x1={2252.5} x2={2362.4} y1={284.6} y2={284.6} stroke="#000" strokeWidth={3} />
    <text x={2311} y={331} textAnchor="middle" fontSize={46}>2</text>

    <text x={2577} y={112.5} textAnchor="middle" fontSize={41}>HG-PYTHIA</text>
    <line x1={2382.5} x2={2467.5} y1={164} y2={164} stroke="#333399" strokeWidth={7} />
    {ddMark(2424.5, 164, 1)}
    <text x={2487.6} y={178.6} fontSize={42}>Ru+Ru N<tspan dy={14} fontSize={29}>hard</tspan></text>
    <line x1={2382.5} x2={2467.5} y1={237.5} y2={237.5} stroke="#993333" strokeWidth={7} />
    {plusMark(2424.5, 237.5, 1)}
    <text x={2487.6} y={251.8} fontSize={42}>Zr+Zr N<tspan dy={14} fontSize={29}>hard</tspan></text>
    <rect x={2382.5} y={285} width={86} height={50} fill="url(#legRu)" />
    <text x={2487.6} y={325.7} fontSize={42}>Ru+Ru Y<tspan dy={-21} fontSize={29}>ch</tspan></text>
    <rect x={2382.5} y={359} width={86} height={51.7} fill="url(#legZr)" />
    <text x={2487.6} y={400} fontSize={42}>Zr+Zr Y<tspan dy={-21} fontSize={29}>ch</tspan></text>

    <text x={1884} y={917} fontSize={41} fontWeight="bold">STAR<tspan x={2016.8} fontWeight="normal" fontStyle="italic">Preliminary</tspan></text>
    <path d="M1924 952 L1927.5 949.5 L1931 977 L1935.4 931.5 L2003 931.5" stroke="#000" strokeWidth={2.5} fill="none" />
    <text x={1943} y={962.6} fontSize={41}>s</text>
    <text x={1964} y={977} fontSize={29}>NN</text>
    <text x={2003} y={962.6} fontSize={41}>=200 GeV</text>
    <text x={1833} y={1017.5} fontSize={41}>(h<tspan dy={-17} fontSize={27}>+</tspan><tspan dy={17}>+h</tspan><tspan dy={-17} fontSize={27}>-</tspan><tspan dy={17}>)/2</tspan><tspan x={2007.5}>p</tspan><tspan dy={12} fontSize={28}>T</tspan><tspan dy={-12} x={2052}>&gt; 5.1 GeV/</tspan><tspan fontStyle="italic">c</tspan></text>
  </svg>
);

export default function App() {
  return (
    <div style={{ position: 'fixed', left: 0, top: 0, width: 2863, height: 1134, overflow: 'hidden', background: '#fff' }}>
      <Defs />
      <div style={{ position: 'absolute', left: 0, top: 0 }}>
        <LeftChart />
      </div>
      <div style={{ position: 'absolute', left: 1300, top: 0 }}>
        <RightChart />
      </div>
      <Overlay />
    </div>
  );
}
